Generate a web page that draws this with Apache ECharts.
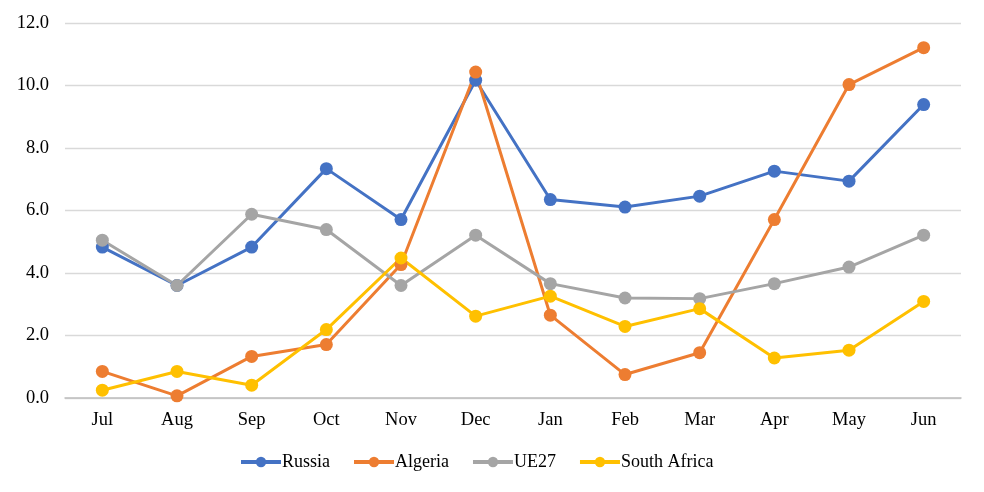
<!DOCTYPE html>
<html>
<head>
<meta charset="utf-8">
<script src="https://cdn.jsdelivr.net/npm/echarts@6/dist/echarts.min.js"></script>
<style>
  html, body { margin: 0; padding: 0; background: #fff; }
  #chart { width: 984px; height: 492px; }
</style>
</head>
<body>
<div id="chart"></div>
<script>
const months = ['Jul', 'Aug', 'Sep', 'Oct', 'Nov', 'Dec', 'Jan', 'Feb', 'Mar', 'Apr', 'May', 'Jun'];
const russia = [4.83, 3.6, 4.83, 7.34, 5.71, 10.17, 6.35, 6.11, 6.46, 7.26, 6.94, 9.39];
const algeria = [0.85, 0.07, 1.33, 1.71, 4.27, 10.43, 2.65, 0.75, 1.45, 5.71, 10.03, 11.21];
const ue27 = [5.05, 3.6, 5.88, 5.39, 3.6, 5.21, 3.66, 3.2, 3.18, 3.66, 4.19, 5.21];
const southAfrica = [0.25, 0.85, 0.41, 2.19, 4.48, 2.62, 3.26, 2.29, 2.86, 1.28, 1.53, 3.09];

const font = '"Liberation Serif", "Times New Roman", serif';

function line(name, data, color) {
    return {
        name: name,
        type: 'line',
        data: data,
        symbol: 'circle',
        symbolSize: 13,
        lineStyle: { width: 3, color: color },
        itemStyle: { color: color },
        emphasis: { disabled: true }
    };
}

const chart = echarts.init(document.getElementById('chart'));
chart.setOption({
    animation: false,
    textStyle: { fontFamily: font },
    grid: { left: 65, right: 23, top: 23, bottom: 94 },
    legend: {
        bottom: 16,
        left: 234,
        itemWidth: 40,
        itemHeight: 13,
        itemGap: 22,
        lineStyle: { width: 4 },
        textStyle: { fontFamily: font, fontSize: 18, color: '#000', padding: [0, 0, 0, -4] },
        data: ['Russia', 'Algeria', 'UE27', 'South Africa']
    },
    xAxis: {
        type: 'category',
        data: months,
        boundaryGap: true,
        axisLine: { lineStyle: { color: '#bfbfbf', width: 1.5 } },
        axisTick: { show: false },
        axisLabel: { color: '#000', fontSize: 18.5, fontFamily: font, margin: 13 }
    },
    yAxis: {
        type: 'value',
        min: 0,
        max: 12,
        interval: 2,
        axisLine: { show: false },
        axisTick: { show: false },
        axisLabel: {
            color: '#000', fontSize: 18.5, fontFamily: font, margin: 16,
            formatter: v => v.toFixed(1)
        },
        splitLine: { lineStyle: { color: '#d9d9d9', width: 1.3 } }
    },
    series: [
        line('Russia', russia, '#4472C4'),
        line('Algeria', algeria, '#ED7D31'),
        line('UE27', ue27, '#A5A5A5'),
        line('South Africa', southAfrica, '#FFC000')
    ]
});
</script>
</body>
</html>
